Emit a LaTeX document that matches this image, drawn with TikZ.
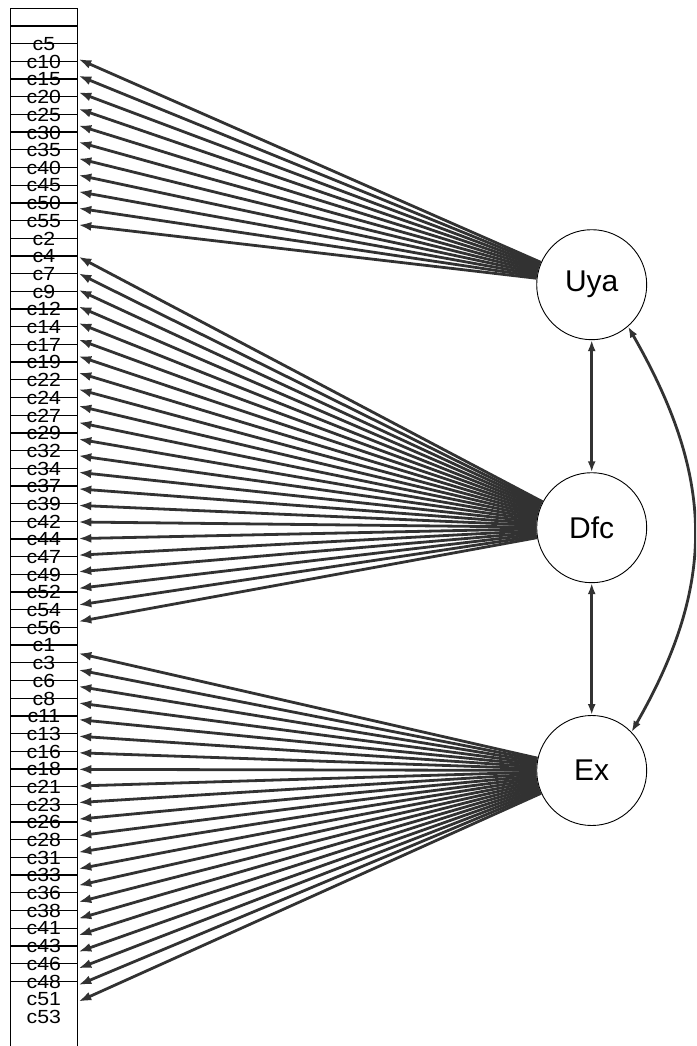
\documentclass[tikz,border=0pt]{standalone}
\usepackage{fontspec}
\setmainfont{Liberation Sans}
\newfontfamily\obsfont[FakeStretch=1.12]{Liberation Sans}
\usetikzlibrary{arrows.meta}
\definecolor{edgegray}{RGB}{50,50,50}

\begin{document}
\begin{tikzpicture}[x=1pt, y=-1pt,
    obs/.style={draw, fill=white, line width=1.3pt, minimum width=67.5pt,
                minimum height=71.4pt, inner sep=0pt},
    obstext/.style={inner sep=0pt, font=\obsfont\fontsize{19}{19}\selectfont},
    lat/.style={circle, draw, line width=0.9pt, fill=white, minimum size=110pt,
                inner sep=0pt, font=\fontsize{30}{30}\selectfont},
    load/.style={edgegray, line width=2.8pt, -{Latex[length=13pt,width=9pt]}},
    cov/.style={edgegray, line width=2.8pt,
                {Latex[length=11pt,width=8pt]}-{Latex[length=11pt,width=8pt]}},
]
\useasboundingbox (0,0) rectangle (696,1046);
\clip (0,0) rectangle (696,1046);

% indicators of Uya
\node[obs] (c5)  at (43.9,44.0)  {};
\node[obs] (c10) at (43.9,61.7)  {};
\node[obs] (c15) at (43.9,79.4)  {};
\node[obs] (c20) at (43.9,97.1)  {};
\node[obs] (c25) at (43.9,114.8) {};
\node[obs] (c30) at (43.9,132.5) {};
\node[obs] (c35) at (43.9,150.1) {};
\node[obs] (c40) at (43.9,167.8) {};
\node[obs] (c45) at (43.9,185.5) {};
\node[obs] (c50) at (43.9,203.2) {};
\node[obs] (c55) at (43.9,220.9) {};
% indicators of Dfc
\node[obs] (c2)  at (43.9,238.6) {};
\node[obs] (c4)  at (43.9,256.3) {};
\node[obs] (c7)  at (43.9,274.0) {};
\node[obs] (c9)  at (43.9,291.7) {};
\node[obs] (c12) at (43.9,309.4) {};
\node[obs] (c14) at (43.9,327.0) {};
\node[obs] (c17) at (43.9,344.7) {};
\node[obs] (c19) at (43.9,362.4) {};
\node[obs] (c22) at (43.9,380.1) {};
\node[obs] (c24) at (43.9,397.8) {};
\node[obs] (c27) at (43.9,415.5) {};
\node[obs] (c29) at (43.9,433.2) {};
\node[obs] (c32) at (43.9,450.9) {};
\node[obs] (c34) at (43.9,468.6) {};
\node[obs] (c37) at (43.9,486.3) {};
\node[obs] (c39) at (43.9,503.9) {};
\node[obs] (c42) at (43.9,521.6) {};
\node[obs] (c44) at (43.9,539.3) {};
\node[obs] (c47) at (43.9,557.0) {};
\node[obs] (c49) at (43.9,574.7) {};
\node[obs] (c52) at (43.9,592.4) {};
\node[obs] (c54) at (43.9,610.1) {};
\node[obs] (c56) at (43.9,627.8) {};
% indicators of Ex
\node[obs] (c1)  at (43.9,645.5) {};
\node[obs] (c3)  at (43.9,663.2) {};
\node[obs] (c6)  at (43.9,680.8) {};
\node[obs] (c8)  at (43.9,698.5) {};
\node[obs] (c11) at (43.9,716.2) {};
\node[obs] (c13) at (43.9,733.9) {};
\node[obs] (c16) at (43.9,751.6) {};
\node[obs] (c18) at (43.9,769.3) {};
\node[obs] (c21) at (43.9,787.0) {};
\node[obs] (c23) at (43.9,804.7) {};
\node[obs] (c26) at (43.9,822.4) {};
\node[obs] (c28) at (43.9,840.1) {};
\node[obs] (c31) at (43.9,857.7) {};
\node[obs] (c33) at (43.9,875.4) {};
\node[obs] (c36) at (43.9,893.1) {};
\node[obs] (c38) at (43.9,910.8) {};
\node[obs] (c41) at (43.9,928.5) {};
\node[obs] (c43) at (43.9,946.2) {};
\node[obs] (c46) at (43.9,963.9) {};
\node[obs] (c48) at (43.9,981.6) {};
\node[obs] (c51) at (43.9,999.3) {};
\node[obs] (c53) at (43.9,1017.0) {};

% item names go on top of the stacked boxes
\foreach \v in {5,10,15,20,25,30,35,40,45,50,55,
                2,4,7,9,12,14,17,19,22,24,27,29,32,34,37,39,42,44,47,49,52,54,56,
                1,3,6,8,11,13,16,18,21,23,26,28,31,33,36,38,41,43,46,48,51,53}
  \node[obstext] (t\v) at (c\v) {c\v};

% latent factors
\node[lat] (Uya) at (591.7,284.7) {Uya};
\node[lat] (Dfc) at (591.7,527.7) {Dfc};
\node[lat] (Ex)  at (591.7,770.5) {Ex};

% loadings
\draw[load] (Uya) -- (c5);
\draw[load] (Uya) -- (c10);
\draw[load] (Uya) -- (c15);
\draw[load] (Uya) -- (c20);
\draw[load] (Uya) -- (c25);
\draw[load] (Uya) -- (c30);
\draw[load] (Uya) -- (c35);
\draw[load] (Uya) -- (c40);
\draw[load] (Uya) -- (c45);
\draw[load] (Uya) -- (c50);
\draw[load] (Uya) -- (c55);

\draw[load] (Dfc) -- (c2);
\draw[load] (Dfc) -- (c4);
\draw[load] (Dfc) -- (c7);
\draw[load] (Dfc) -- (c9);
\draw[load] (Dfc) -- (c12);
\draw[load] (Dfc) -- (c14);
\draw[load] (Dfc) -- (c17);
\draw[load] (Dfc) -- (c19);
\draw[load] (Dfc) -- (c22);
\draw[load] (Dfc) -- (c24);
\draw[load] (Dfc) -- (c27);
\draw[load] (Dfc) -- (c29);
\draw[load] (Dfc) -- (c32);
\draw[load] (Dfc) -- (c34);
\draw[load] (Dfc) -- (c37);
\draw[load] (Dfc) -- (c39);
\draw[load] (Dfc) -- (c42);
\draw[load] (Dfc) -- (c44);
\draw[load] (Dfc) -- (c47);
\draw[load] (Dfc) -- (c49);
\draw[load] (Dfc) -- (c52);
\draw[load] (Dfc) -- (c54);
\draw[load] (Dfc) -- (c56);

\draw[load] (Ex) -- (c1);
\draw[load] (Ex) -- (c3);
\draw[load] (Ex) -- (c6);
\draw[load] (Ex) -- (c8);
\draw[load] (Ex) -- (c11);
\draw[load] (Ex) -- (c13);
\draw[load] (Ex) -- (c16);
\draw[load] (Ex) -- (c18);
\draw[load] (Ex) -- (c21);
\draw[load] (Ex) -- (c23);
\draw[load] (Ex) -- (c26);
\draw[load] (Ex) -- (c28);
\draw[load] (Ex) -- (c31);
\draw[load] (Ex) -- (c33);
\draw[load] (Ex) -- (c36);
\draw[load] (Ex) -- (c38);
\draw[load] (Ex) -- (c41);
\draw[load] (Ex) -- (c43);
\draw[load] (Ex) -- (c46);
\draw[load] (Ex) -- (c48);
\draw[load] (Ex) -- (c51);
\draw[load] (Ex) -- (c53);

% factor covariances
\draw[cov] (Uya) -- (Dfc);
\draw[cov] (Dfc) -- (Ex);
\draw[cov] (Uya.-49) .. controls +(86,150) and +(86,-150) .. (Ex.44);
\end{tikzpicture}
\end{document}
